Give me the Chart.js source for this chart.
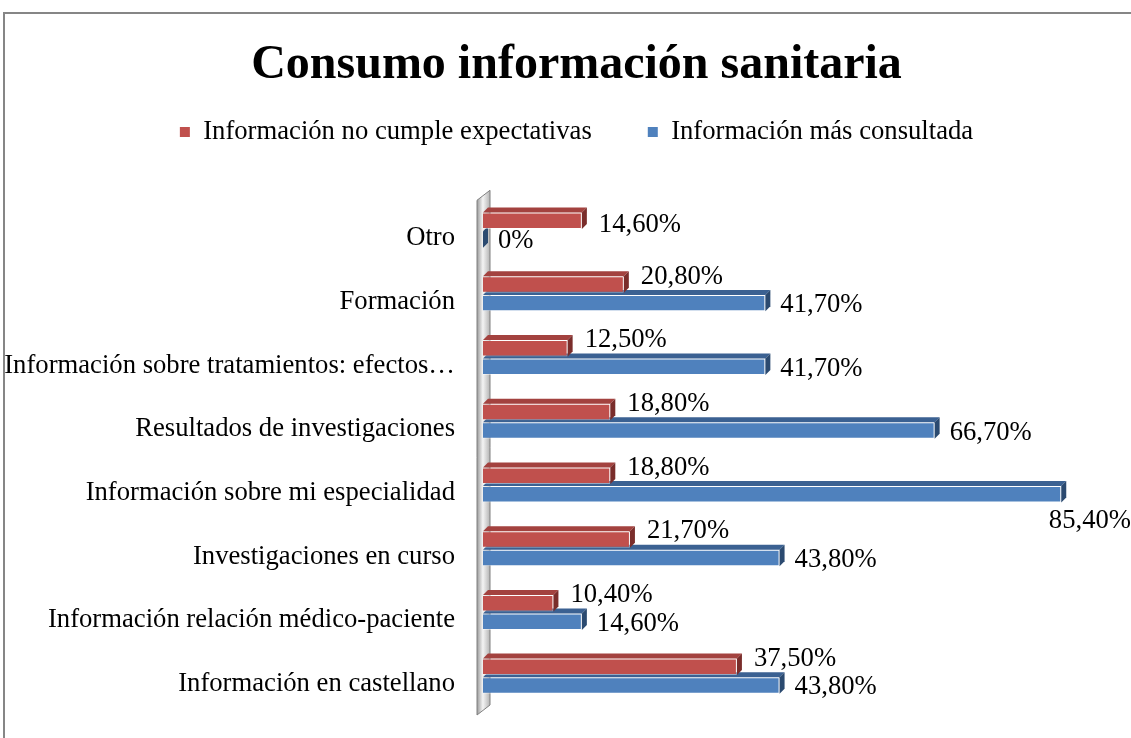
<!DOCTYPE html>
<html>
<head>
<meta charset="utf-8">
<title>Consumo información sanitaria</title>
<script src="https://cdn.jsdelivr.net/npm/chart.js"></script>
<style>
  html, body { margin: 0; padding: 0; background: #fff; }
  canvas { display: block; }
</style>
</head>
<body>
<canvas id="Chart" width="1131" height="738"></canvas>
<script>
const categories = [
    'Otro',
    'Formación',
    'Información sobre tratamientos: efectos…',
    'Resultados de investigaciones',
    'Información sobre mi especialidad',
    'Investigaciones en curso',
    'Información relación médico-paciente',
    'Información en castellano'
];
const noCumpleExpectativas = [14.6, 20.8, 12.5, 18.8, 18.8, 21.7, 10.4, 37.5];
const masConsultada = [0, 41.7, 41.7, 66.7, 85.4, 43.8, 14.6, 43.8];

const serif = "'Times New Roman', 'Liberation Serif', serif";
Chart.defaults.font.family = serif;
Chart.defaults.color = '#000';

// colours for the fake 3d faces, by dataset index
const faces = [
    { top: '#a3423f', side: '#7a2d2b' },
    { top: '#3b6192', side: '#2b4a70' }
];
const DEPTH = 5;

function pct(v) {
    return v === 0 ? '0%' : v.toFixed(2).replace('.', ',') + '%';
}

// grey frame round the chart
const frame = {
    id: 'frame',
    beforeDraw(chart) {
        const c = chart.ctx;
        c.save();
        c.strokeStyle = '#868686';
        c.lineWidth = 2;
        c.beginPath();
        c.moveTo(4, chart.height);
        c.lineTo(4, 13);
        c.lineTo(chart.width, 13);
        c.stroke();
        c.restore();
    }
};

// the 3d wall behind the category axis
const wall = {
    id: 'wall',
    beforeDatasetsDraw(chart) {
        const c = chart.ctx, a = chart.chartArea;
        const L = a.left - 6, R = a.left + 7, T = a.top - 8, B = a.bottom + 7;
        const g = c.createLinearGradient(L, 0, R, 0);
        g.addColorStop(0, '#9a9a9a');
        g.addColorStop(0.45, '#f4f4f4');
        g.addColorStop(1, '#b4b4b4');
        c.save();
        c.fillStyle = g;
        c.strokeStyle = '#808080';
        c.lineWidth = 1;
        c.beginPath();
        c.moveTo(L, T + 10);
        c.lineTo(R, T);
        c.lineTo(R, B - 10);
        c.lineTo(L, B);
        c.closePath();
        c.fill();
        c.stroke();
        c.restore();
    }
};

// top and side faces of each bar
const bars3d = {
    id: 'bars3d',
    afterDatasetDraw(chart, args) {
        const c = chart.ctx, f = faces[args.index];
        c.save();
        args.meta.data.forEach(bar => {
            const { x, y, base, height } = bar.getProps(['x', 'y', 'base', 'height'], true);
            const t = y - height / 2, b = y + height / 2;
            c.fillStyle = f.top;
            c.beginPath();
            c.moveTo(base, t);
            c.lineTo(base + DEPTH, t - DEPTH);
            c.lineTo(x + DEPTH, t - DEPTH);
            c.lineTo(x, t);
            c.closePath();
            c.fill();
            c.fillStyle = f.side;
            c.beginPath();
            c.moveTo(x, t);
            c.lineTo(x + DEPTH, t - DEPTH);
            c.lineTo(x + DEPTH, b - DEPTH);
            c.lineTo(x, b);
            c.closePath();
            c.fill();
        });
        c.restore();
    }
};

// value labels
const valueLabels = {
    id: 'valueLabels',
    afterDatasetsDraw(chart) {
        const c = chart.ctx;
        c.save();
        c.font = '26.67px ' + serif;
        c.fillStyle = '#000';
        c.textBaseline = 'middle';
        chart.data.datasets.forEach((ds, di) => {
            const meta = chart.getDatasetMeta(di);
            meta.data.forEach((bar, i) => {
                const v = ds.data[i];
                const txt = pct(v);
                const w = c.measureText(txt).width;
                let x, y;
                c.textAlign = 'left';
                if (di === 0) {
                    x = bar.x + 17;
                    y = masConsultada[i] > v ? bar.y - 8 : bar.y + 4;
                } else {
                    x = bar.x + 15;
                    y = bar.y + 2;
                    if (x + w > chart.width) {
                        c.textAlign = 'right';
                        x = chart.width;
                        y = bar.y + 27;
                    }
                }
                c.fillText(txt, x, y);
            });
        });
        c.restore();
    }
};

new Chart(document.getElementById('Chart'), {
    type: 'bar',
    data: {
        labels: categories,
        datasets: [{
            label: 'Información no cumple expectativas',
            data: noCumpleExpectativas,
            backgroundColor: '#c0504d',
            borderColor: 'rgba(255,255,255,0.45)',
            borderWidth: 1,
            categoryPercentage: 0.583,
            barPercentage: 0.887
        }, {
            label: 'Información más consultada',
            data: masConsultada,
            backgroundColor: '#4f81bd',
            borderColor: 'rgba(255,255,255,0.45)',
            borderWidth: 1,
            categoryPercentage: 0.583,
            barPercentage: 0.887
        }]
    },
    options: {
        indexAxis: 'y',
        responsive: false,
        animation: false,
        devicePixelRatio: 1,
        layout: {
            padding: { left: 0, right: -22, top: 0, bottom: 30 }
        },
        plugins: {
            title: {
                display: true,
                text: 'Consumo información sanitaria',
                font: { size: 48, weight: 'bold', family: serif },
                color: '#000',
                padding: { top: 37, bottom: -32 }
            },
            legend: {
                display: true,
                labels: {
                    font: { size: 26.67, family: serif },
                    color: '#000',
                    boxWidth: 10,
                    boxHeight: 10,
                    padding: 56,
                    generateLabels(chart) {
                        return Chart.defaults.plugins.legend.labels.generateLabels(chart)
                            .map(l => Object.assign(l, { lineWidth: 0 }));
                    }
                }
            },
            tooltip: { enabled: false }
        },
        scales: {
            x: {
                position: 'top',
                min: 0,
                max: 95.7,
                ticks: { display: false },
                grid: { display: false, drawTicks: false },
                border: { display: false },
                afterFit(scale) { scale.height = 43; }
            },
            y: {
                ticks: {
                    font: { size: 26.67, family: serif },
                    color: '#000',
                    padding: 28,
                    labelOffset: 8
                },
                grid: { display: false, drawTicks: false },
                border: { display: false },
                afterFit(scale) {
                    scale.width = 483;
                    scale.paddingTop = 0;
                    scale.paddingBottom = 0;
                }
            }
        }
    },
    plugins: [frame, wall, bars3d, valueLabels]
});
</script>
</body>
</html>
